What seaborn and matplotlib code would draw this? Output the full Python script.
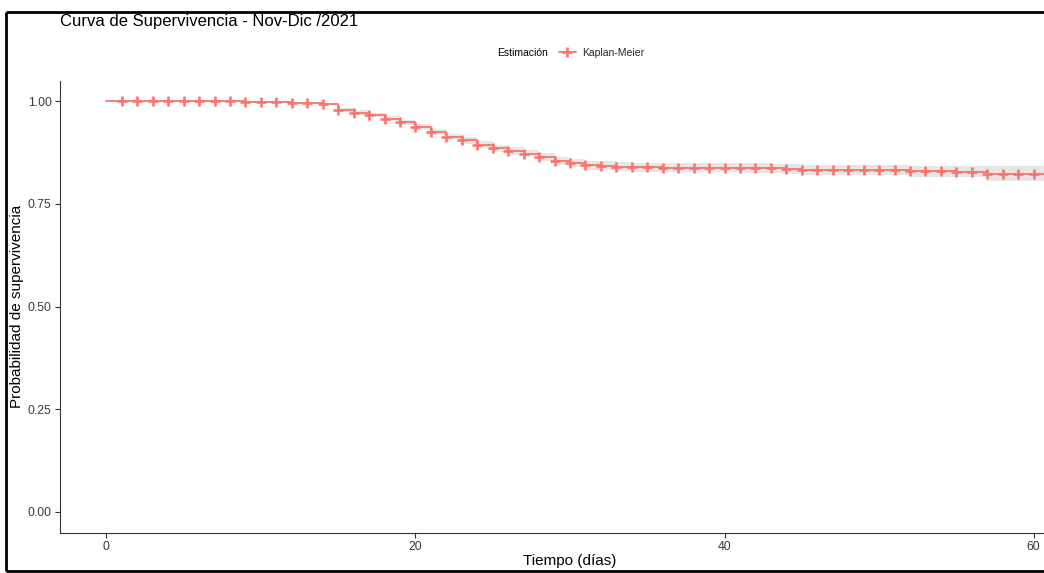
import matplotlib
matplotlib.use("Agg")
import matplotlib.pyplot as plt
from matplotlib.lines import Line2D
import seaborn as sns
import pandas as pd

# Kaplan-Meier estimate (days of follow-up) with its confidence band
dias = list(range(0, 62))
supervivencia = [
    1.000, 1.000, 1.000, 1.000, 0.9995, 0.9995, 0.999, 0.999, 0.999, 0.998,
    0.998, 0.997, 0.996, 0.995, 0.994, 0.978, 0.972, 0.967, 0.957, 0.948,
    0.937, 0.924, 0.913, 0.904, 0.894, 0.885, 0.878, 0.872, 0.863, 0.855,
    0.849, 0.844, 0.842, 0.840, 0.839, 0.839, 0.838, 0.838, 0.838, 0.838,
    0.838, 0.838, 0.838, 0.836, 0.835, 0.833, 0.833, 0.832, 0.832, 0.832,
    0.832, 0.832, 0.829, 0.829, 0.829, 0.828, 0.828, 0.823, 0.823, 0.823,
    0.823, 0.823,
]
ic_inferior = [
    1.000, 1.000, 1.000, 1.000, 0.9985, 0.9985, 0.998, 0.998, 0.998, 0.996,
    0.996, 0.995, 0.994, 0.993, 0.992, 0.974, 0.967, 0.962, 0.951, 0.942,
    0.930, 0.917, 0.905, 0.896, 0.886, 0.876, 0.869, 0.863, 0.853, 0.845,
    0.839, 0.833, 0.831, 0.829, 0.828, 0.828, 0.827, 0.827, 0.827, 0.827,
    0.827, 0.826, 0.826, 0.824, 0.823, 0.821, 0.821, 0.820, 0.820, 0.820,
    0.820, 0.819, 0.816, 0.816, 0.816, 0.815, 0.815, 0.805, 0.805, 0.805,
    0.805, 0.805,
]
ic_superior = [
    1.000, 1.000, 1.000, 1.000, 1.000, 1.000, 1.000, 1.000, 1.000, 1.000,
    1.000, 0.999, 0.998, 0.997, 0.996, 0.982, 0.977, 0.972, 0.963, 0.954,
    0.944, 0.931, 0.921, 0.912, 0.902, 0.894, 0.887, 0.881, 0.873, 0.865,
    0.859, 0.855, 0.853, 0.851, 0.850, 0.850, 0.849, 0.849, 0.849, 0.849,
    0.849, 0.850, 0.850, 0.848, 0.847, 0.845, 0.845, 0.844, 0.844, 0.844,
    0.844, 0.845, 0.842, 0.842, 0.842, 0.841, 0.841, 0.841, 0.841, 0.841,
    0.841, 0.841,
]
# days with censored observations (drawn as "+")
dias_censura = list(range(1, 61))

ticks_x = [0, 20, 40, 60]
ticks_y = [0.00, 0.25, 0.50, 0.75, 1.00]
etiquetas_y = ["0.00", "0.25", "0.50", "0.75", "1.00"]

titulo = "Curva de Supervivencia - Nov-Dic /2021"
etiqueta_x = "Tiempo (días)"
etiqueta_y = "Probabilidad de supervivencia"
titulo_leyenda = "Estimación"
nombre_serie = "Kaplan-Meier"

ROJO = "#F8766D"
BANDA = "#E6E6E6"

sns.set_style("white")
plt.rcParams["font.family"] = ["Liberation Sans", "DejaVu Sans"]

df = pd.DataFrame({
    "dias": dias,
    "supervivencia": supervivencia,
    "inf": ic_inferior,
    "sup": ic_superior,
})
marcas = df[df["dias"].isin(dias_censura)]

W, H = 1044, 573
fig = plt.figure(figsize=(W / 100, H / 100), dpi=100)
# panel runs past the right edge of the canvas
ax = fig.add_axes([60 / W, (H - 532.5) / H, 1020 / W, 452 / H])

ax.fill_between(df["dias"], df["inf"], df["sup"], step="post",
                color=BANDA, linewidth=0, zorder=1)
sns.lineplot(data=df, x="dias", y="supervivencia", drawstyle="steps-post",
             color=ROJO, linewidth=1.3, estimator=None, legend=False,
             ax=ax, zorder=2)
sns.scatterplot(data=marcas, x="dias", y="supervivencia", marker="+",
                s=42, color=ROJO, linewidth=1.9, legend=False, ax=ax,
                zorder=3)

ax.set_xlim(-3, 63)
ax.set_ylim(-0.05, 1.05)
ax.set_xticks(ticks_x)
ax.set_xticklabels([str(t) for t in ticks_x])
ax.set_yticks(ticks_y)
ax.set_yticklabels(etiquetas_y)

for lado in ("top", "right"):
    ax.spines[lado].set_visible(False)
for lado in ("left", "bottom"):
    ax.spines[lado].set_color("#333333")
    ax.spines[lado].set_linewidth(0.8)

ax.tick_params(axis="both", which="major", direction="out", length=3.5,
               width=0.8, color="#333333", labelcolor="#3A3A3A",
               labelsize=8.8, pad=2.5, bottom=True, left=True)

ax.set_xlabel(etiqueta_x, fontsize=11, color="black")
ax.set_ylabel(etiqueta_y, fontsize=11, color="black")
ax.xaxis.set_label_coords(0.5, -(561 - 532.5) / 452, transform=ax.transAxes)
ax.yaxis.set_label_coords(-(60 - 17) / 1020, 0.5, transform=ax.transAxes)
ax.xaxis.label.set_verticalalignment("center")
ax.yaxis.label.set_verticalalignment("center")

fig.text(60 / W, 1 - 26 / H, titulo, fontsize=12, color="black",
         ha="left", va="baseline")

# legend: title to the left of the single entry
y_ley = 1 - 52.5 / H
fig.text(497 / W, y_ley, titulo_leyenda, fontsize=7.5, color="black",
         ha="left", va="center")
manija = Line2D([0], [0], color=ROJO, linewidth=1.3, marker="+",
                markersize=6.5, markeredgewidth=1.9)
fig.legend([manija], [nombre_serie], loc="center left",
           bbox_to_anchor=(559 / W, y_ley), bbox_transform=fig.transFigure,
           frameon=False, fontsize=7.5, borderpad=0, borderaxespad=0,
           handlelength=1.6, handletextpad=0.6)

# outer frame of the image
marco = dict(transform=fig.transFigure, color="black", linewidth=2.0,
             solid_capstyle="butt")
xl, yt, yb = 5.5 / W, 1 - 12 / H, 1 - 571 / H
fig.add_artist(Line2D([xl, xl], [yb, yt], **marco))
fig.add_artist(Line2D([xl, 1], [yt, yt], **marco))
fig.add_artist(Line2D([xl, 1], [yb, yb], **marco))

fig.savefig("out.png", dpi=100)
